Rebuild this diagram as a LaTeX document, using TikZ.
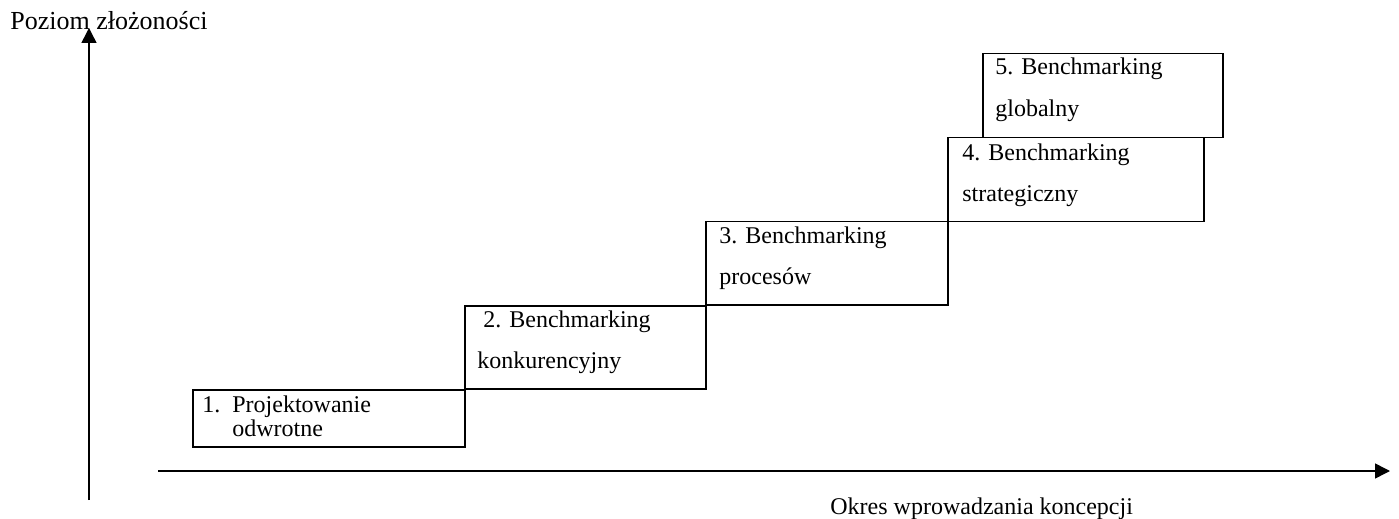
\documentclass[tikz,border=0pt]{standalone}
\usepackage{fontspec}
\setmainfont{Liberation Serif}
\usetikzlibrary{arrows.meta, positioning, calc}

\begin{document}
\begin{tikzpicture}[x=0.5pt, y=-0.5pt,
  stage/.style={draw, line width=0.75pt, inner sep=0pt, anchor=north west},
  stagetxt/.style={inner sep=0pt, anchor=base west, align=left, font=\fontsize{12}{20.75}\selectfont},
  axis/.style={line width=0.75pt, -{Triangle[length=7.5pt, width=7.5pt]}}]
  \useasboundingbox (0,0) rectangle (1399,519);
  % schodki
  \node[stage, minimum width=136pt, minimum height=28.5pt] (s1) at (192,389) {};
  \node[stage, minimum width=120.5pt, minimum height=41.5pt] (s2) at (464,305) {};
  \node[stage, minimum width=121pt, minimum height=41.5pt] (s3) at (705,221) {};
  \node[stage, minimum width=128pt, minimum height=42pt] (s4) at (947,137) {};
  \node[stage, minimum width=120pt, minimum height=42pt] (s5) at (982,53) {};
  % podpisy (base = linia bazowa ostatniego wiersza)
  \node[stagetxt, font=\fontsize{12}{12.25}\selectfont] (t1) at ($(s1.north west)+(10,47.5)$)
    {\makebox[15pt][l]{1.}Projektowanie\\\hspace*{15pt}odwrotne};
  \node[stagetxt] (t2) at ($(s2.north west)+(13,63.5)$) {\hspace*{3pt}2. Benchmarking\\konkurencyjny};
  \node[stagetxt] (t3) at ($(s3.north west)+(14,63.5)$) {3. Benchmarking\\procesów};
  \node[stagetxt] (t4) at ($(s4.north west)+(15,64.5)$) {4. Benchmarking\\strategiczny};
  \node[stagetxt] (t5) at ($(s5.north west)+(13,63.5)$) {5. Benchmarking\\globalny};
  % osie
  \coordinate (ybot) at (89,500);
  \coordinate (ytop) at (89,28);
  \coordinate (xbeg) at (158,471);
  \coordinate (xend) at (1390,471);
  \draw[axis] (ybot) -- (ytop);
  \draw[axis] (xbeg) -- (xend);
  \node[inner sep=0pt, anchor=base west, font=\fontsize{13}{15}\selectfont] (ylab) at (10,30) {Poziom złożoności};
  \node[inner sep=0pt, anchor=base west, font=\fontsize{12}{14}\selectfont] (xlab) at (830,514) {Okres wprowadzania koncepcji};
\end{tikzpicture}
\end{document}
